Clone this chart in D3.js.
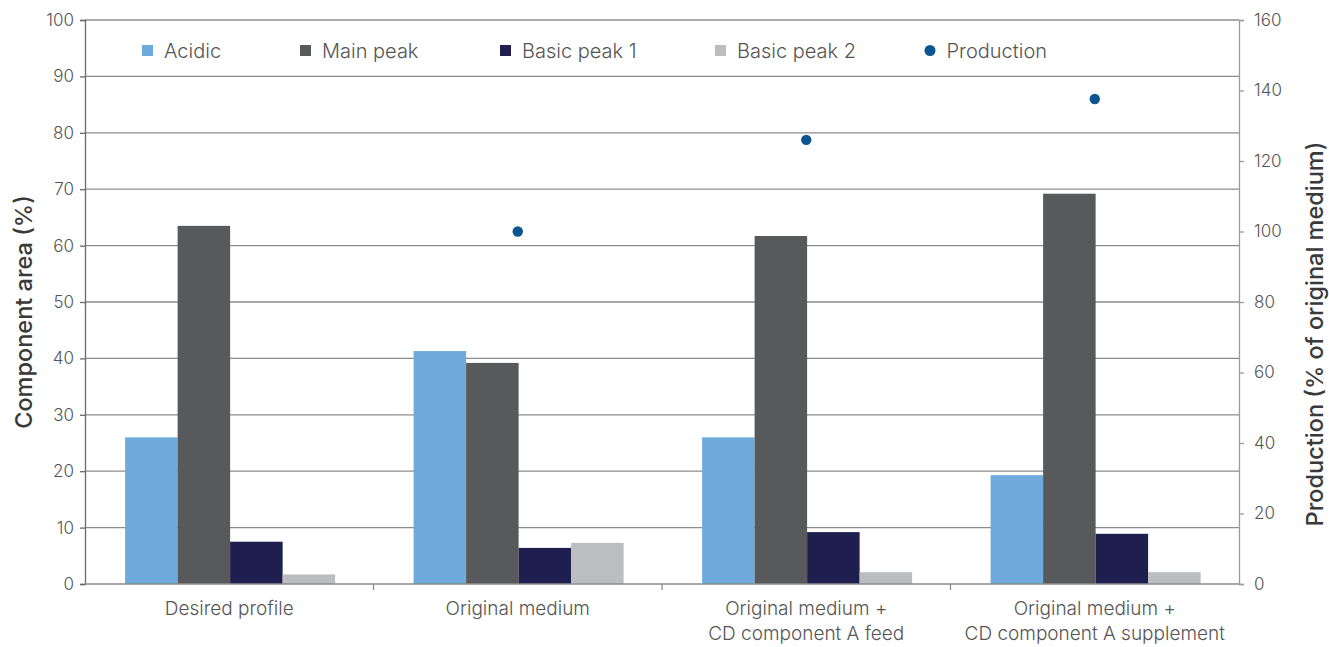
<!DOCTYPE html>
<html>
<head>
<meta charset="utf-8">
<script src="https://cdn.jsdelivr.net/npm/d3@7"></script>
<style>
  html, body { margin: 0; padding: 0; background: #fff; }
  svg { display: block; }
  text { font-family: Inter, "Liberation Sans", Arial, sans-serif; }
</style>
</head>
<body>
<svg id="chart" width="1329" height="647"></svg>
<script>
// Categories (x groups), with multi-line labels
const categories = ["Desired profile", "Original medium", "Feed", "Supplement"];
const categoryLabels = [
  ["Desired profile"],
  ["Original medium"],
  ["Original medium +", "CD component A feed"],
  ["Original medium +", "CD component A supplement"]
];

// Bar series (component area, %)
const seriesNames = ["Acidic", "Main peak", "Basic peak 1", "Basic peak 2"];
const acidic    = [26.0, 41.3, 26.0, 19.3];
const mainPeak  = [63.5, 39.2, 61.7, 69.2];
const basic1    = [7.5, 6.4, 9.2, 8.9];
const basic2    = [1.7, 7.3, 2.1, 2.1];

// Production (% of original medium), right axis; none for desired profile
const production = [null, 100, 126, 137.6];

// Axis ticks
const leftTicks = [0, 10, 20, 30, 40, 50, 60, 70, 80, 90, 100];
const rightTicks = [0, 20, 40, 60, 80, 100, 120, 140, 160];

const colors = {
  "Acidic": "#6eaadc",
  "Main peak": "#58595b",
  "Basic peak 1": "#1e1f4e",
  "Basic peak 2": "#bcbdc0",
  "Production": "#0b5590"
};

const seriesValues = [acidic, mainPeak, basic1, basic2];
const rows = categories.map((c, i) => ({
  cat: c,
  values: seriesNames.map((s, j) => ({ series: s, value: seriesValues[j][i] })),
  production: production[i]
}));

const svg = d3.select("#chart");
const plot = { left: 85, right: 1239, top: 20, bottom: 584 };

const x0 = d3.scaleBand().domain(categories).range([plot.left, plot.right]).padding(0);
const bw = x0.bandwidth();
const x1 = d3.scaleBand().domain(seriesNames).range([bw * 0.139, bw * 0.867]).padding(0);
const yL = d3.scaleLinear().domain([0, 100]).range([plot.bottom, plot.top]);
const yR = d3.scaleLinear().domain([0, 160]).range([plot.bottom, plot.top]);

const textColor = "#555555";
const lineColor = "#8c8c8c";
const labelFont = "Inter, 'Liberation Sans', Arial, sans-serif";

// Horizontal gridlines
svg.append("g")
  .selectAll("line")
  .data(leftTicks.filter(t => t > 0))
  .join("line")
  .attr("x1", plot.left).attr("x2", plot.right)
  .attr("y1", d => yL(d)).attr("y2", d => yL(d))
  .attr("stroke", lineColor).attr("stroke-width", 1.3);

// Bars
const groups = svg.append("g")
  .selectAll("g")
  .data(rows)
  .join("g")
  .attr("transform", d => `translate(${x0(d.cat)},0)`);

groups.selectAll("rect")
  .data(d => d.values)
  .join("rect")
  .attr("x", d => x1(d.series))
  .attr("width", x1.bandwidth())
  .attr("y", d => yL(d.value))
  .attr("height", d => yL(0) - yL(d.value))
  .attr("fill", d => colors[d.series]);

// Left axis
const leftAxis = svg.append("g")
  .attr("transform", `translate(${plot.left},0)`)
  .call(d3.axisLeft(yL).tickValues(leftTicks).tickSize(5).tickPadding(6));
leftAxis.select(".domain").attr("stroke", "#6a6a6a").attr("stroke-width", 1.3);
leftAxis.selectAll(".tick line").attr("stroke", "#6a6a6a").attr("stroke-width", 1.3);
leftAxis.selectAll(".tick text")
  .attr("fill", textColor).attr("font-size", 17).attr("font-weight", 300)
  .attr("font-family", labelFont);

// Right axis
const rightAxis = svg.append("g")
  .attr("transform", `translate(${plot.right},0)`)
  .call(d3.axisRight(yR).tickValues(rightTicks).tickSize(5).tickPadding(10));
rightAxis.select(".domain").attr("stroke", "#9a9a9a").attr("stroke-width", 1.3);
rightAxis.selectAll(".tick line").attr("stroke", "#9a9a9a").attr("stroke-width", 1.3);
rightAxis.selectAll(".tick text")
  .attr("fill", textColor).attr("font-size", 17).attr("font-weight", 300)
  .attr("font-family", labelFont);

// Bottom axis: baseline and category separators
svg.append("line")
  .attr("x1", plot.left).attr("x2", plot.right)
  .attr("y1", yL(0)).attr("y2", yL(0))
  .attr("stroke", lineColor).attr("stroke-width", 1.5);
svg.append("g")
  .selectAll("line")
  .data(categories.slice(1))
  .join("line")
  .attr("x1", d => x0(d)).attr("x2", d => x0(d))
  .attr("y1", yL(0)).attr("y2", yL(0) + 6)
  .attr("stroke", lineColor).attr("stroke-width", 1.3);

// Category labels
svg.append("g")
  .selectAll("text")
  .data(rows)
  .join("text")
  .attr("x", d => x0(d.cat) + bw / 2)
  .attr("y", 615)
  .attr("text-anchor", "middle")
  .attr("fill", textColor)
  .attr("font-size", 19)
  .attr("font-weight", 300)
  .each(function(d, i) {
    const t = d3.select(this);
    categoryLabels[i].forEach((line, k) => {
      t.append("tspan")
        .attr("x", x0(d.cat) + bw / 2)
        .attr("dy", k === 0 ? 0 : 25)
        .text(line);
    });
  });

// Production points
svg.append("g")
  .selectAll("circle")
  .data(rows.filter(d => d.production != null))
  .join("circle")
  .attr("cx", d => x0(d.cat) + bw / 2)
  .attr("cy", d => yR(d.production))
  .attr("r", 5.2)
  .attr("fill", colors["Production"]);

// Axis titles
svg.append("text")
  .attr("transform", "translate(32,312) rotate(-90)")
  .attr("text-anchor", "middle")
  .attr("fill", "#3a3a3a")
  .attr("font-size", 23.5)
  .attr("font-weight", 500)
  .text("Component area (%)");

svg.append("text")
  .attr("transform", "translate(1323,334) rotate(-90)")
  .attr("text-anchor", "middle")
  .attr("fill", "#3a3a3a")
  .attr("font-size", 23.5)
  .attr("font-weight", 500)
  .text("Production (% of original medium)");

// Legend
const legendItems = [
  { name: "Acidic", x: 142, shape: "rect" },
  { name: "Main peak", x: 300, shape: "rect" },
  { name: "Basic peak 1", x: 500, shape: "rect" },
  { name: "Basic peak 2", x: 715, shape: "rect" },
  { name: "Production", x: 924.5, shape: "circle" }
];
const legend = svg.append("g");
legendItems.forEach(it => {
  const g = legend.append("g");
  if (it.shape === "rect") {
    g.append("rect").attr("x", it.x).attr("y", 45).attr("width", 11).attr("height", 11)
      .attr("fill", colors[it.name]);
  } else {
    g.append("circle").attr("cx", it.x + 5.5).attr("cy", 50.5).attr("r", 5.5)
      .attr("fill", colors[it.name]);
  }
  g.append("text").attr("x", it.x + 22).attr("y", 58)
    .attr("fill", textColor).attr("font-size", 20).attr("font-weight", 300).text(it.name);
});
</script>
</body>
</html>
